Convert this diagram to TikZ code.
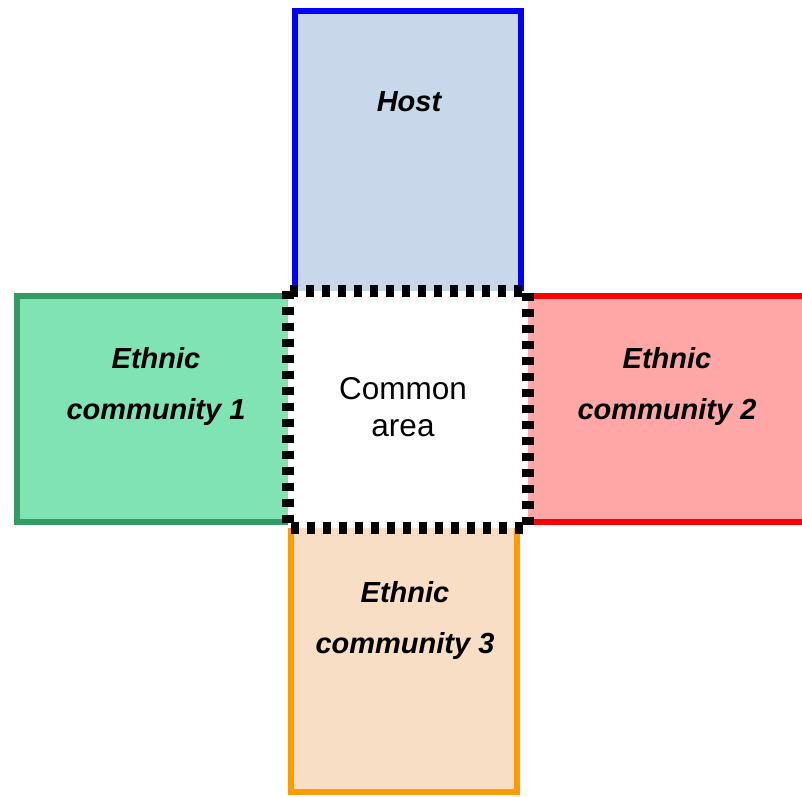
\documentclass[tikz,border=0pt]{standalone}
\usepackage{fontspec}
\setmainfont{Liberation Sans}
\definecolor{hostfill}{HTML}{C8D8EA}
\definecolor{hostline}{HTML}{0000FF}
\definecolor{grnfill}{HTML}{80E3B3}
\definecolor{grnline}{HTML}{349A66}
\definecolor{redfill}{HTML}{FFA6A6}
\definecolor{redline}{HTML}{FF0000}
\definecolor{orgfill}{HTML}{F9DEC6}
\definecolor{orgline}{HTML}{FF9A00}
\tikzset{
  zone/.style={line width=6pt},
  lab/.style={align=center, inner sep=0pt,
    font=\bfseries\itshape\fontsize{29}{51}\selectfont},
  commonlab/.style={align=center, inner sep=0pt,
    font=\fontsize{31.5}{37}\selectfont},
  commonbox/.style={fill=white, draw=black, line width=12pt,
    dash pattern=on 8pt off 8pt}
}
\begin{document}
\begin{tikzpicture}[x=1pt,y=-1pt]
\useasboundingbox (0,0) rectangle (802,796);
\clip (0,0) rectangle (802,796);
% four surrounding zones
\draw[zone, draw=hostline, fill=hostfill] (295,11) rectangle (521,330);
\draw[zone, draw=grnline, fill=grnfill] (17,296) rectangle (330,522);
\draw[zone, draw=redline, fill=redfill] (490,296) rectangle (830,522);
\draw[zone, draw=orgline, fill=orgfill] (291,490) rectangle (517,792);
% shared centre square
\draw[commonbox] (287.5,291) rectangle (528,527.5);
% labels
\node[lab] (host) at (409,102) {Host};
\node[lab] (eth1) at (156,386) {Ethnic\\community 1};
\node[lab] (eth2) at (667,386) {Ethnic\\community 2};
\node[lab] (eth3) at (405,620) {Ethnic\\community 3};
\node[commonlab] (common) at (403,407) {Common\\area};
\end{tikzpicture}
\end{document}
